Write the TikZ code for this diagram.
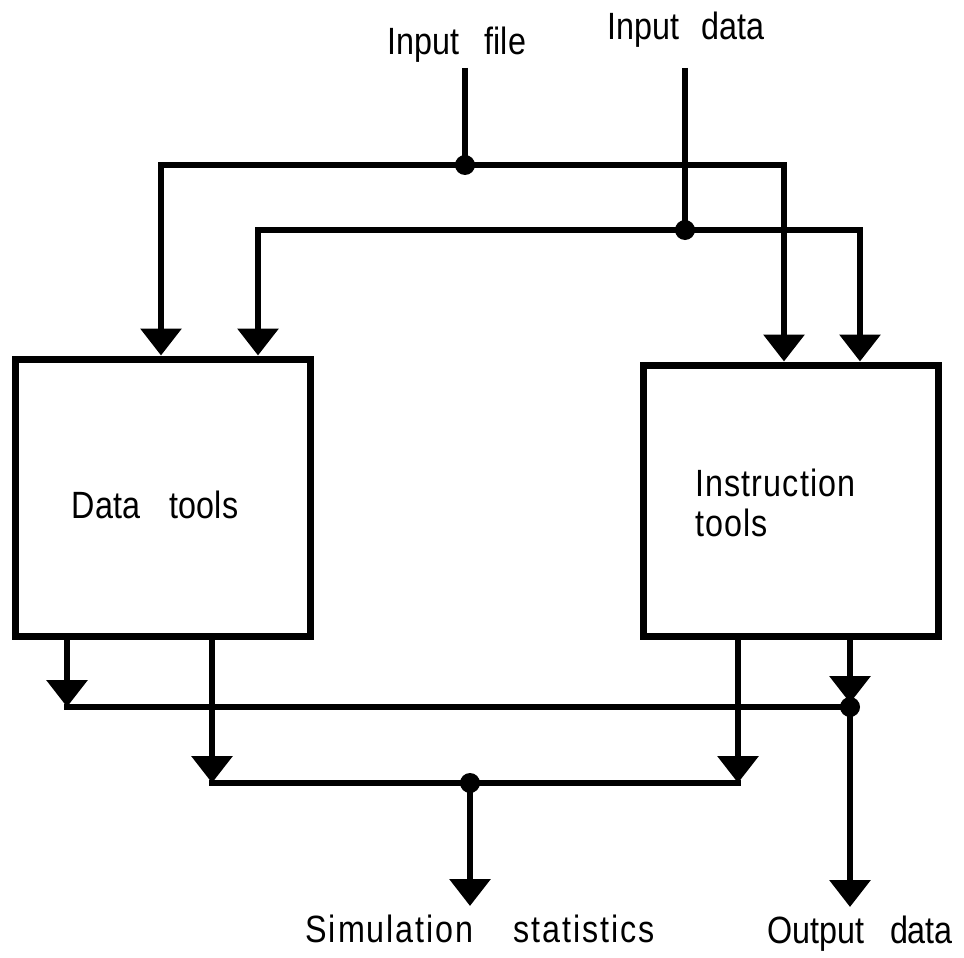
\documentclass[tikz,border=0pt]{standalone}
\usepackage{fontspec}
\setmainfont{Liberation Sans}[FakeStretch=0.85]
\usetikzlibrary{arrows.meta}
\begin{document}
\begin{tikzpicture}[x=1pt,y=-1pt,
  wire/.style={line width=6.5pt, line join=miter},
  arr/.style={wire, -{Triangle[width=40pt,length=27pt]}},
  box/.style={draw, line width=7pt, minimum width=295pt, minimum height=277pt, inner sep=0pt},
  lbl/.style={font=\fontsize{38}{40}\selectfont, inner sep=0pt},
  dotr/.style={fill=black}]
\useasboundingbox (0,0) rectangle (964,958);
% boxes
\node[box] (dt) at (162.5,497.5) {};
\node[box, minimum height=271pt] (it) at (790.5,500.5) {};
% labels
\node[lbl, anchor=base] (lif) at (457,55) {Input\hspace{25pt}file};
\node[lbl, anchor=base] (lid) at (686,40) {Input\hspace{23pt}data};
\node[lbl, anchor=base] (ldt) at (155,518) {Data\hspace{30pt}tools};
\node[lbl, anchor=west, align=left] (lit) at (695,503) {\addfontfeature{LetterSpace=3}Instruction\\\addfontfeature{LetterSpace=3}tools};
\node[lbl, anchor=base] (lss) at (480,942) {\addfontfeature{LetterSpace=5}Simulation\hspace{40pt}statistics};
\node[lbl, anchor=base] (lod) at (860,943) {Output\hspace{26pt}data};
% guide coordinates
\coordinate (xa) at (161,0);
\coordinate (xb) at (258,0);
\coordinate (xc) at (784,0);
\coordinate (xd) at (860,0);
\coordinate (xe) at (67,0);
\coordinate (xf) at (212,0);
\coordinate (xg) at (738,0);
\coordinate (xh) at (850,0);
% junctions and free ends
\coordinate (ifs) at (465,68);
\coordinate (ids) at (685,68);
\coordinate (j1) at (465,165);
\coordinate (j2) at (685,230);
\coordinate (j3) at (850,707);
\coordinate (j4) at (470,783);
\coordinate (k1) at (67,707);
\coordinate (k2) at (212,783);
\coordinate (k3) at (738,783);
\coordinate (k4) at (850,703);
\coordinate (s1) at (470,906);
\coordinate (o1) at (850,907);
% top inputs
\draw[wire] (ifs) -- (j1);
\draw[arr] (j1) -| (dt.north -| xa);
\draw[arr] (j1) -| (it.north -| xc);
\draw[wire] (ids) -- (j2);
\draw[arr] (j2) -| (dt.north -| xb);
\draw[arr] (j2) -| (it.north -| xd);
% outputs
\draw[arr] (dt.south -| xe) -- (k1);
\draw[wire, line cap=rect] (k1) -- (j3);
\draw[arr] (dt.south -| xf) -- (k2);
\draw[arr] (it.south -| xg) -- (k3);
\draw[wire, line cap=rect] (k2) -- (k3);
\draw[arr] (it.south -| xh) -- (k4);
\draw[arr] (j3) -- (o1);
\draw[arr] (j4) -- (s1);
% dots
\fill[dotr] (j1) circle[radius=10pt];
\fill[dotr] (j2) circle[radius=10pt];
\fill[dotr] (j3) circle[radius=10pt];
\fill[dotr] (j4) circle[radius=10pt];
\end{tikzpicture}
\end{document}
